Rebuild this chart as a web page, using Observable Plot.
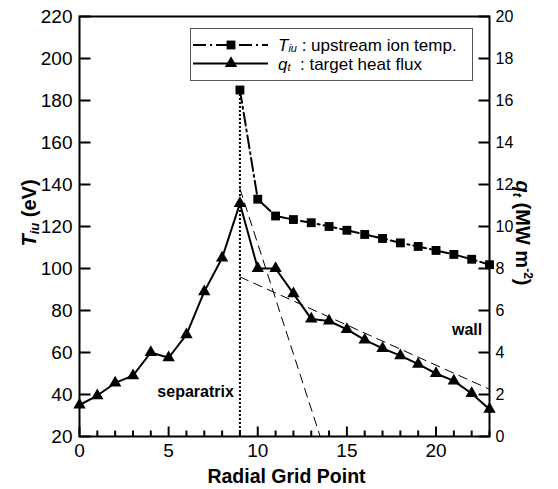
<!DOCTYPE html>
<html><head><meta charset="utf-8">
<script src="https://cdn.jsdelivr.net/npm/d3@7"></script>
<script src="https://cdn.jsdelivr.net/npm/@observablehq/plot@0.6"></script>
<style>
body{margin:0;background:#fff}
svg{font-family:"Liberation Sans",Arial,Helvetica,sans-serif}
</style>
</head><body><div id="chart"></div>
<script>
// ---- data ----
const gridPoints = [0,1,2,3,4,5,6,7,8,9,10,11,12,13,14,15,16,17,18,19,20,21,22,23];
const qtValues   = [1.5,1.95,2.55,2.9,4.0,3.75,4.85,6.9,8.5,11.1,8.0,8.0,6.8,5.6,5.5,5.1,4.6,4.2,3.85,3.45,3.0,2.65,2.05,1.3];
const tiuGrid    = [9,10,11,12,13,14,15,16,17,18,19,20,21,22,23];
const tiuValues  = [185,133,125,123.3,121.8,120,118.2,116.2,114.3,112.2,110.5,108.6,106.7,104.4,101.8];
const steepFitGrid = [9, 13.5];
const steepFitQt   = [11.8, 0];
const wallFitGrid  = [9, 23];
const wallFitQt    = [7.6, 2.25];
const separatrixGrid = 9;
const leftTicks  = [20,40,60,80,100,120,140,160,180,200,220];
const rightTicks = [0,2,4,6,8,10,12,14,16,18,20];
const xLabelTicks = [0,5,10,15,20];
const xMinorTicks = [0,1,2,3,4,5,6,7,8,9,10,11,12,13,14,15,16,17,18,19,20,21,22,23];
const xDomain = [0, 23];
const yDomain = [20, 220];
const qDomain = [0, 20];

// layout
const W = 558, H = 489, mL = 79, mR = 69, mT = 16, mB = 53;
const xPerPx = (xDomain[1] - xDomain[0]) / (W - mL - mR);
const yPerPx = (yDomain[1] - yDomain[0]) / (H - mT - mB);

// right axis (qt) mapped onto the left scale
const qToT = q => yDomain[0] + (q - qDomain[0]) * (yDomain[1] - yDomain[0]) / (qDomain[1] - qDomain[0]);

const qtData  = gridPoints.map((x, i) => ({x, y: qToT(qtValues[i])}));
const tiuData = tiuGrid.map((x, i) => ({x, y: tiuValues[i]}));
const steepFit = steepFitGrid.map((x, i) => ({x, y: qToT(steepFitQt[i])}));
const wallFit  = wallFitGrid.map((x, i) => ({x, y: qToT(wallFitQt[i])}));
const sepData = [{x: separatrixGrid, y1: yDomain[0], y2: tiuValues[0]}];
const annotations = [
  {x: 8.66, y: 41.1, text: "separatrix"},
  {x: 22.59, y: qToT(5.1), text: "wall"}
];
// inward tick marks (lengths in px converted to data units)
const xTickData = xMinorTicks.map(v => ({x: v, y1: yDomain[0], y2: yDomain[0] + (xLabelTicks.includes(v) ? 10 : 6) * yPerPx}));
const leftTickData = leftTicks.map(v => ({y: v, x1: xDomain[0], x2: xDomain[0] + 11 * xPerPx}));
const rightTickData = rightTicks.map(q => ({y: qToT(q), x1: xDomain[1] - 11 * xPerPx, x2: xDomain[1]}));

const plot = Plot.plot({
  width: W, height: H,
  marginLeft: mL, marginRight: mR, marginTop: mT, marginBottom: mB,
  style: {background: "white", fontFamily: '"Liberation Sans",Arial,sans-serif', overflow: "visible"},
  x: {domain: xDomain},
  y: {domain: yDomain},
  marks: [
    Plot.line(steepFit, {x: "x", y: "y", stroke: "black", strokeWidth: 1, strokeDasharray: "9,6"}),
    Plot.line(wallFit, {x: "x", y: "y", stroke: "black", strokeWidth: 1, strokeDasharray: "9,6"}),
    Plot.ruleX(sepData, {x: "x", y1: "y1", y2: "y2", stroke: "black", strokeWidth: 2, strokeDasharray: "2,2"}),
    Plot.line(qtData, {x: "x", y: "y", stroke: "black", strokeWidth: 2}),
    Plot.line(tiuData, {x: "x", y: "y", stroke: "black", strokeWidth: 2, strokeDasharray: "13,4,2,4"}),
    Plot.dot(qtData, {x: "x", y: "y", symbol: "triangle", r: 4.6, fill: "black"}),
    Plot.dot(tiuData, {x: "x", y: "y", symbol: "square", r: 5, fill: "black"}),
    Plot.text(annotations, {x: "x", y: "y", text: "text", textAnchor: "end", fontWeight: "bold", fontSize: 16, fill: "black"}),
    Plot.frame({stroke: "black", strokeWidth: 2}),
    Plot.link(xTickData, {x1: "x", x2: "x", y1: "y1", y2: "y2", stroke: "black", strokeWidth: 2}),
    Plot.link(leftTickData, {y1: "y", y2: "y", x1: "x1", x2: "x2", stroke: "black", strokeWidth: 2}),
    Plot.link(rightTickData, {y1: "y", y2: "y", x1: "x1", x2: "x2", stroke: "black", strokeWidth: 2}),
    // tick labels
    Plot.axisX(xLabelTicks, {anchor: "bottom", tickSize: 0, tickPadding: 7, fontSize: 19, label: null, tickFormat: d => String(d)}),
    Plot.axisY(leftTicks, {anchor: "left", tickSize: 0, tickPadding: 7, fontSize: 19, label: null, tickFormat: d => String(d)}),
    Plot.axisY(rightTicks.map(qToT), {anchor: "right", tickSize: 0, tickPadding: 6, fontSize: 16, label: null, tickFormat: d => String(Math.round((d - yDomain[0]) / 10))})
  ]
});

document.getElementById("chart").appendChild(plot);
const svg = d3.select(plot);

// axis titles
svg.append("text")
  .attr("x", 286.5).attr("y", 482.5)
  .attr("text-anchor", "middle")
  .attr("font-weight", "bold").attr("font-size", 19.5)
  .text("Radial Grid Point");

const yl = svg.append("text")
  .attr("transform", "translate(36,213) rotate(-90)")
  .attr("text-anchor", "middle")
  .attr("font-weight", "bold").attr("font-size", 20);
yl.append("tspan").attr("font-style", "italic").text("T");
yl.append("tspan").attr("font-style", "italic").attr("font-size", 13).attr("dy", 3).text("iu");
yl.append("tspan").attr("dy", -3).text(" (eV)");

const yr = svg.append("text")
  .attr("transform", "translate(516,233) rotate(90)")
  .attr("text-anchor", "middle")
  .attr("font-weight", "bold").attr("font-size", 20);
yr.append("tspan").attr("font-style", "italic").text("q");
yr.append("tspan").attr("font-style", "italic").attr("font-size", 13).attr("dy", 3).text("t");
yr.append("tspan").attr("dy", -3).text(" (MW m");
yr.append("tspan").attr("font-size", 12).attr("dy", -8).text("-2");
yr.append("tspan").attr("dy", 8).text(")");

// legend
const lg = svg.append("g").attr("text-anchor", "start");
lg.append("rect").attr("x", 190.5).attr("y", 28.5).attr("width", 282).attr("height", 52)
  .attr("fill", "white").attr("stroke", "#555").attr("stroke-width", 1);
lg.append("line").attr("x1", 193).attr("x2", 268).attr("y1", 45).attr("y2", 45)
  .attr("stroke", "black").attr("stroke-width", 2).attr("stroke-dasharray", "13,4,2,4");
lg.append("path").attr("d", d3.symbol(d3.symbolSquare, 5 * 5 * Math.PI)()).attr("transform", "translate(231,45)");
lg.append("line").attr("x1", 193).attr("x2", 268).attr("y1", 63.5).attr("y2", 63.5)
  .attr("stroke", "black").attr("stroke-width", 2);
lg.append("path").attr("d", d3.symbol(d3.symbolTriangle, 4.6 * 4.6 * Math.PI)()).attr("transform", "translate(231,63.5)");
const t1 = lg.append("text").attr("x", 278).attr("y", 51).attr("font-size", 17).attr("text-anchor", "start");
t1.append("tspan").attr("font-style", "italic").text("T");
t1.append("tspan").attr("font-style", "italic").attr("font-size", 11).attr("dy", 1).text("iu");
t1.append("tspan").attr("dy", -1).text(" : upstream ion temp.");
const t2 = lg.append("text").attr("x", 278).attr("y", 69.5).attr("font-size", 17).attr("text-anchor", "start");
t2.append("tspan").attr("font-style", "italic").text("q");
t2.append("tspan").attr("font-style", "italic").attr("font-size", 11).attr("dy", 1).text("t");
t2.append("tspan").attr("dy", -1).text("  : target heat flux");
</script>
</body></html>
